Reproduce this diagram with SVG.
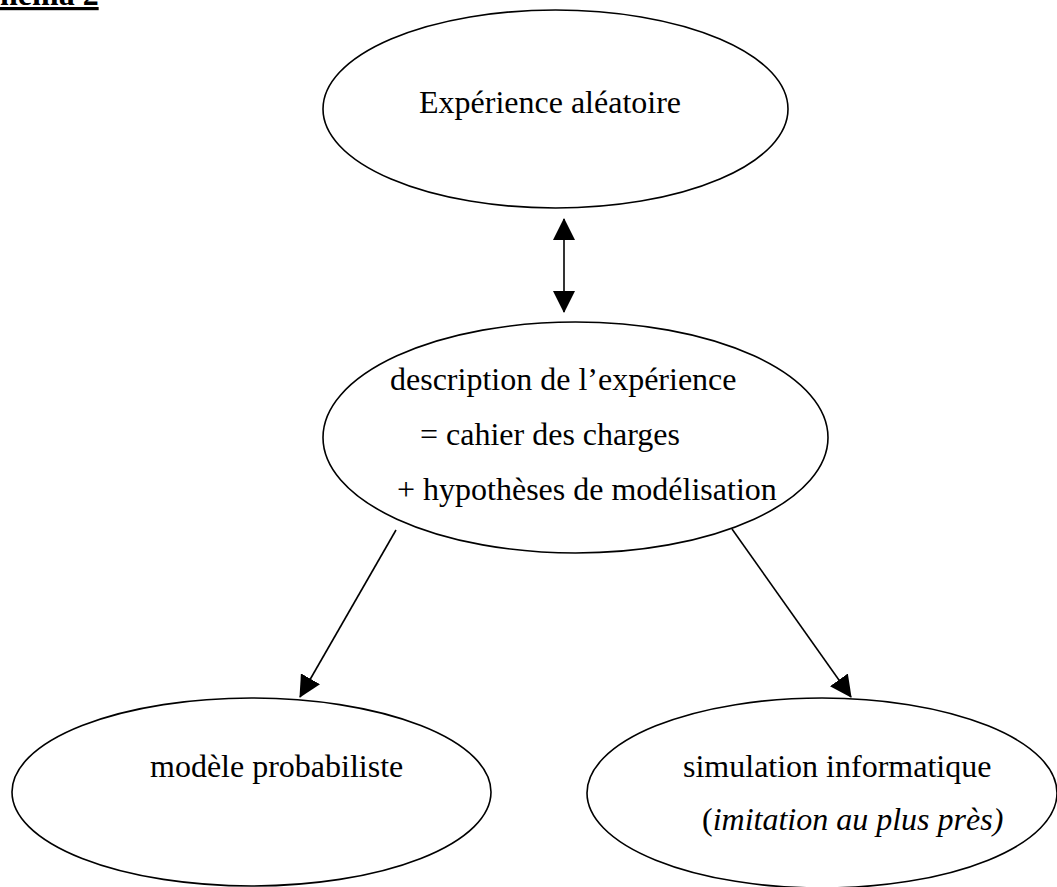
<svg xmlns="http://www.w3.org/2000/svg" width="1057" height="887" viewBox="0 0 1057 887">
<style>
.n{fill:#fff;stroke:#000;stroke-width:1.6}
.t{font-family:"Liberation Serif","Times New Roman",serif;font-size:32px;fill:#000}
.c{stroke:#000;stroke-width:1.6;fill:none}
</style>
<defs>
<marker id="ah" markerUnits="userSpaceOnUse" markerWidth="22" markerHeight="22" viewBox="0 0 22 22" refX="21" refY="11" orient="auto-start-reverse">
<path d="M0,0 L22,11 L0,22 Z" fill="#000"/>
</marker>
</defs>
<rect width="1057" height="887" fill="#fff"/>
<text class="t" x="-32" y="5" font-weight="bold" text-decoration="underline">Schéma 2</text>
<g id="connectors">
<line class="c" x1="564" y1="219" x2="564" y2="312" marker-start="url(#ah)" marker-end="url(#ah)"/>
<line class="c" x1="396" y1="530" x2="300" y2="697" marker-end="url(#ah)"/>
<line class="c" x1="732" y1="529" x2="851" y2="697" marker-end="url(#ah)"/>
</g>
<g id="n1">
<ellipse class="n" cx="555.5" cy="109" rx="232.5" ry="99"/>
<text class="t" x="419" y="113">Expérience aléatoire</text>
</g>
<g id="n2">
<ellipse class="n" cx="575.5" cy="437.5" rx="252.5" ry="115.5"/>
<text class="t" x="390" y="390">description de l’expérience</text>
<text class="t" x="420" y="445">= cahier des charges</text>
<text class="t" x="397" y="500">+ hypothèses de modélisation</text>
</g>
<g id="n3">
<ellipse class="n" cx="251.5" cy="792" rx="239.5" ry="94"/>
<text class="t" x="150" y="777">modèle probabiliste</text>
</g>
<g id="n4">
<ellipse class="n" cx="822" cy="793" rx="235" ry="95"/>
<text class="t" x="683" y="777">simulation informatique</text>
<text class="t" x="702" y="830">(<tspan font-style="italic">imitation au plus près)</tspan></text>
</g>
</svg>
